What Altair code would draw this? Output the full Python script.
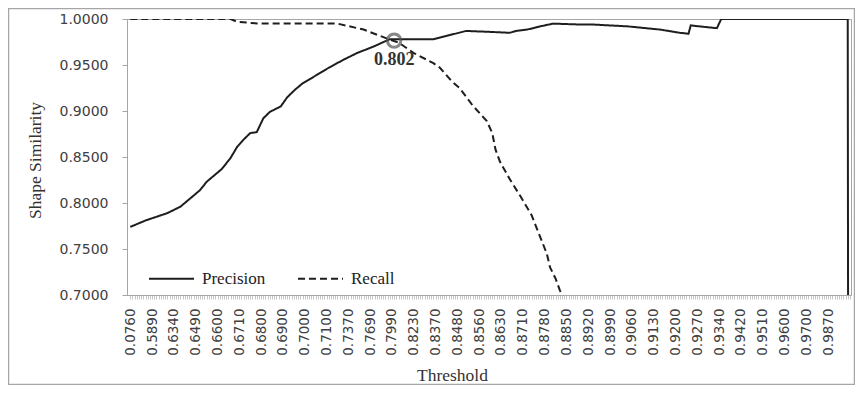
import altair as alt
import pandas as pd

# ---------------- data ----------------
thresh_labels = ["0.0760", "0.5890", "0.6340", "0.6490", "0.6600", "0.6710", "0.6800",
                 "0.6900", "0.7000", "0.7100", "0.7370", "0.7690", "0.7990", "0.8230",
                 "0.8370", "0.8480", "0.8560", "0.8630", "0.8710", "0.8780", "0.8850",
                 "0.8920", "0.8990", "0.9060", "0.9130", "0.9200", "0.9270", "0.9340",
                 "0.9420", "0.9510", "0.9600", "0.9700", "0.9870"]

y_ticks = [0.70, 0.75, 0.80, 0.85, 0.90, 0.95, 1.00]

# category index (one label every 10 categories)
prec_u = [0, 7, 17, 23, 29, 32, 35, 39, 42, 46,
          49, 52, 55, 58, 61, 64, 69, 72, 75.5, 79,
          84, 91, 98, 104, 111.5, 119, 139, 144, 154, 165,
          174, 177, 182, 188, 194, 206, 212, 228, 243, 252,
          256, 257, 269, 271, 329, 329.5]
prec_v = [0.774, 0.781, 0.789, 0.796, 0.808, 0.814, 0.823, 0.831, 0.837, 0.849,
          0.861, 0.869, 0.876, 0.877, 0.892, 0.899, 0.905, 0.915, 0.923, 0.930,
          0.937, 0.947, 0.956, 0.963, 0.970, 0.978, 0.978, 0.981, 0.987, 0.986,
          0.985, 0.987, 0.9885, 0.992, 0.995, 0.994, 0.994, 0.992, 0.9885, 0.985,
          0.984, 0.993, 0.990, 1.0, 1.0, 0.0]

rec_u = [0, 46, 49, 59, 95, 107, 119, 123, 130, 139, 142, 147.5, 151, 157, 163.5, 166,
         167.5, 169.5, 174, 179, 184, 188, 191, 192.5, 195, 197, 198.5, 200]
rec_v = [1.0, 1.0, 0.997, 0.995, 0.995, 0.9885, 0.9776, 0.9745, 0.963, 0.952, 0.947,
         0.932, 0.925, 0.906, 0.889, 0.876, 0.858, 0.845, 0.826, 0.807, 0.787, 0.763,
         0.745, 0.730, 0.718, 0.705, 0.699, 0.690]

series_names = ["Precision", "Recall"]

cross_u = [121]
cross_v = [0.9765]
cross_label = ["0.802"]

# ---------------- tables ----------------
lines_df = pd.concat([
    pd.DataFrame({"u": prec_u, "value": prec_v, "series": series_names[0]}),
    pd.DataFrame({"u": rec_u, "value": rec_v, "series": series_names[1]}),
], ignore_index=True)
cross_df = pd.DataFrame({"u": cross_u, "value": cross_v, "label": cross_label})

labels_js = "[" + ",".join(f"'{s}'" for s in thresh_labels) + "]"
label_expr = (f"datum.value % 10 === 0 && datum.value <= {10 * (len(thresh_labels) - 1)}"
              f" ? {labels_js}[datum.value / 10] : ''")

W, H = 724, 276
GRAY = "#a6a6a6"
TXT = "#404040"
tick_values = list(range(0, 331))

x_scale = alt.Scale(domain=[-1.5, 330.5], nice=False, zero=False)
y_scale = alt.Scale(domain=[0.7, 1.0], nice=False, zero=False)

x_axis = alt.Axis(
    values=tick_values, tickCount=len(tick_values) + 10, labelExpr=label_expr, labelAngle=270,
    labelOverlap=False, labelFlush=False, labelBound=False,
    labelFont="DejaVu Sans", labelFontSize=13.5, labelColor=TXT, labelPadding=9,
    tickSize=4, tickColor="#b8b8b8", tickWidth=0.8, domainColor=GRAY, grid=False,
    title="Threshold", titleFont="Liberation Serif", titleFontSize=17.5,
    titleFontWeight="normal", titleColor="#333333", titleX=325, titleY=80,
    titleBaseline="middle", titleAlign="center",
)
y_axis = alt.Axis(
    values=y_ticks, format=".4f", grid=False,
    labelFont="DejaVu Sans", labelFontSize=14, labelColor=TXT, labelPadding=14,
    tickSize=5, tickColor=GRAY, domainColor=GRAY,
    title="Shape Similarity", titleFont="Liberation Serif", titleFontSize=17.5,
    titleFontWeight="normal", titleColor="#333333", titleX=-92, titleY=141,
    titleAngle=270, titleBaseline="middle", titleAlign="center",
)

frame = alt.Chart(pd.DataFrame({"a": [0]})).mark_rect(
    fillOpacity=0, stroke=GRAY, strokeWidth=1.5
).encode(
    x=alt.value(-118.5), x2=alt.value(727.5), y=alt.value(-10.5), y2=alt.value(365.5)
)

lines = alt.Chart(lines_df).mark_line(color="#1e1e1e", strokeWidth=2, clip=True).encode(
    x=alt.X("u:Q", scale=x_scale, axis=x_axis),
    y=alt.Y("value:Q", scale=y_scale, axis=y_axis),
    strokeDash=alt.StrokeDash(
        "series:N",
        scale=alt.Scale(domain=series_names, range=[[1, 0], [7, 4]]),
        legend=alt.Legend(
            title=None, orient="none", legendX=21, legendY=236, direction="horizontal",
            symbolType="stroke", symbolSize=2025, symbolStrokeWidth=2,
            symbolStrokeColor="#1e1e1e", labelFont="Liberation Serif", labelFontSize=17,
            labelColor="#222222", labelOffset=7, columnPadding=28, padding=0,
        ),
    ),
)

circle = alt.Chart(cross_df).mark_point(
    shape="circle", size=180, filled=False, stroke="#555555", strokeWidth=3
).encode(x=alt.X("u:Q", scale=x_scale), y=alt.Y("value:Q", scale=y_scale))

label = alt.Chart(cross_df).mark_text(
    font="Liberation Serif", fontSize=18, fontWeight="bold", color="#333333", dy=19
).encode(x=alt.X("u:Q", scale=x_scale), y=alt.Y("value:Q", scale=y_scale), text="label:N")

chart = alt.layer(frame, lines, circle, label).properties(
    width=W, height=H,
    autosize=alt.AutoSizeParams(type="none"),
    padding={"left": 119, "top": 11, "right": 4, "bottom": 90},
    background="white",
).configure_view(stroke=GRAY, strokeWidth=1)

chart.save("out.html", embed_options={"renderer": "svg", "actions": False})
